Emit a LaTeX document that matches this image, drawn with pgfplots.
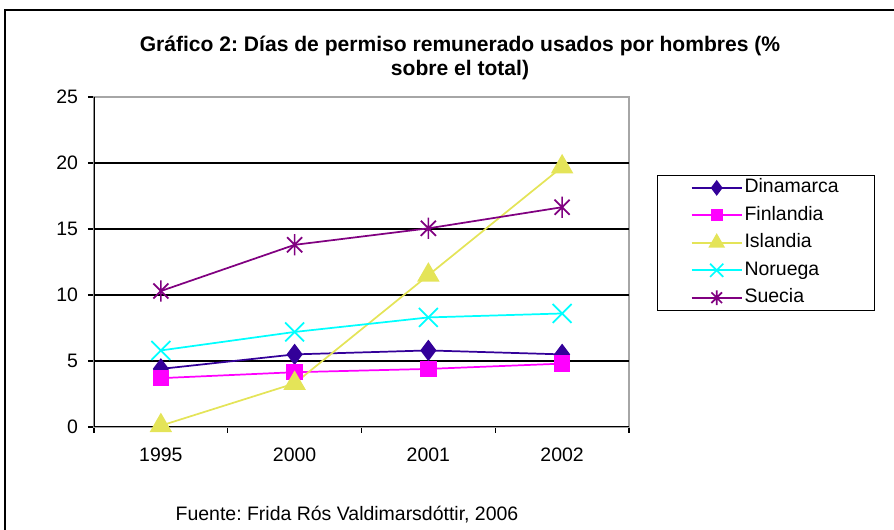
\documentclass[border=0pt]{standalone}
\usepackage{pgfplots}
\pgfplotsset{compat=1.18}
\usepackage{fontspec}
\setmainfont{Liberation Sans}
\frenchspacing
\definecolor{cDin}{RGB}{51,0,153}
\definecolor{cFin}{RGB}{255,0,255}
\definecolor{cIsl}{RGB}{228,228,88}
\definecolor{cNor}{RGB}{0,255,255}
\definecolor{cSue}{RGB}{128,0,128}
\pgfdeclareplotmark{xstar}{%
  \pgfpathmoveto{\pgfqpoint{0pt}{\pgfplotmarksize}}%
  \pgfpathlineto{\pgfqpoint{0pt}{-\pgfplotmarksize}}%
  \pgfpathmoveto{\pgfqpoint{-.7071\pgfplotmarksize}{-.7071\pgfplotmarksize}}%
  \pgfpathlineto{\pgfqpoint{.7071\pgfplotmarksize}{.7071\pgfplotmarksize}}%
  \pgfpathmoveto{\pgfqpoint{-.7071\pgfplotmarksize}{.7071\pgfplotmarksize}}%
  \pgfpathlineto{\pgfqpoint{.7071\pgfplotmarksize}{-.7071\pgfplotmarksize}}%
  \pgfusepathqstroke}
\begin{document}
\begin{tikzpicture}
\useasboundingbox (0,0) rectangle (670.5pt,397.5pt);
\draw[line width=1.5pt] (3.75pt,-3pt) -- (3.75pt,390pt) -- (680pt,390pt);
\node[font=\bfseries\fontsize{15.8}{18}\selectfont, align=center] at (345pt,354pt)
  {Gráfico 2: Días de permiso remunerado usados por hombres (\%\\ sobre el total)};
\node[font=\fontsize{14.6}{16}\selectfont] at (260.25pt,11.25pt) {Fuente: Frida Rós Valdimarsdóttir, 2006};
\begin{axis}[
  at={(70.5pt,77.25pt)}, anchor=south west,
  scale only axis, width=401.25pt, height=247.5pt,
  xmin=-0.5, xmax=3.5, ymin=0, ymax=25,
  xtick={0,1,2,3}, xticklabels={1995,2000,2001,2002},
  major x tick style={draw=none},
  minor xtick={-0.5,0.5,1.5,2.5,3.5},
  minor tick length=4.5pt,
  xtick pos=bottom, ytick pos=left,
  ytick={0,5,10,15,20,25},
  extra y ticks={5,10,15,20}, extra y tick labels={},
  extra y tick style={ymajorgrids=true, major tick length=0pt},
  major grid style={black, line width=0.8pt},
  tick align=outside, major tick length=4.5pt,
  tick style={black, line width=0.8pt},
  axis line style={draw=gray!70, line width=0.8pt},
  ticklabel style={font=\fontsize{14.6}{16}\selectfont},
  /pgf/number format/assume math mode=true,
  xticklabel style={yshift=-8pt},
  yticklabel style={xshift=-4pt},
  legend style={at={(axis description cs:1.0523,0.7636)}, anchor=north west,
    draw=black, line width=0.8pt, font=\fontsize{14.6}{16}\selectfont,
    nodes={inner sep=1.5pt, text height=10.5pt, text depth=3pt},
    row sep=4.1pt, inner xsep=25pt, inner ysep=1pt, cells={anchor=west}},
  legend image code/.code={\draw[mark repeat=2,mark phase=2,#1,every mark/.append style={scale=0.7}] plot coordinates {(0pt,0pt)(18.75pt,0pt)(37.5pt,0pt)};},
  every axis plot/.append style={line width=1.3pt},
]
\addplot[color=cDin, mark=diamond*, mark size=7pt, mark options={fill=cDin}] coordinates {(0,4.4) (1,5.5) (2,5.8) (3,5.5)};
\addlegendentry{Dinamarca}
\addplot[color=cFin, mark=square*, mark size=5.5pt, mark options={fill=cFin}] coordinates {(0,3.7) (1,4.15) (2,4.4) (3,4.8)};
\addlegendentry{Finlandia}
\addplot[color=cIsl, mark=triangle*, mark size=8.5pt, mark options={fill=cIsl}] coordinates {(0,0.1) (1,3.3) (2,11.5) (3,19.7)};
\addlegendentry{Islandia}
\addplot[color=cNor, mark=x, mark size=10pt] coordinates {(0,5.8) (1,7.2) (2,8.3) (3,8.6)};
\addlegendentry{Noruega}
\addplot[color=cSue, mark=xstar, mark size=8pt] coordinates {(0,10.3) (1,13.8) (2,15.05) (3,16.65)};
\addlegendentry{Suecia}
\draw[black, line width=0.8pt] (rel axis cs:0,1) -- (rel axis cs:0,0) -- (rel axis cs:1,0);
\end{axis}
\end{tikzpicture}
\end{document}
